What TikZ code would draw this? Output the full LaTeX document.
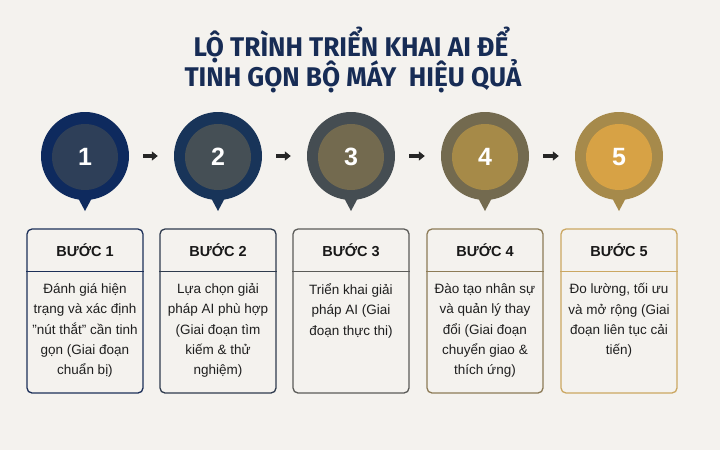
\documentclass[tikz,border=0pt]{standalone}
\usepackage{fontspec}
\setmainfont{Liberation Sans}
\newfontfamily\titlefont[FakeStretch=0.97]{Fira Sans}
\usetikzlibrary{arrows.meta}

\definecolor{bgcol}{HTML}{F4F2EE}
\definecolor{titlecol}{HTML}{172C55}
\definecolor{outerA}{HTML}{0E2A5E}
\definecolor{innerA}{HTML}{2E3F58}
\definecolor{outerB}{HTML}{183459}
\definecolor{innerB}{HTML}{454F55}
\definecolor{outerC}{HTML}{454D52}
\definecolor{innerC}{HTML}{736A4F}
\definecolor{outerD}{HTML}{736A4F}
\definecolor{innerD}{HTML}{A68A48}
\definecolor{outerE}{HTML}{A68A4B}
\definecolor{innerE}{HTML}{D7A245}
\definecolor{lineA}{HTML}{1C2F58}
\definecolor{lineB}{HTML}{2F3B4D}
\definecolor{lineC}{HTML}{5B5B58}
\definecolor{lineD}{HTML}{8D7B57}
\definecolor{lineE}{HTML}{CBA762}

\tikzset{
	titletext/.style={anchor=base, text=titlecol, font=\titlefont\bfseries\fontsize{27}{28}\selectfont},
	pinouter/.style={circle, minimum size=88pt, inner sep=0pt},
	pininner/.style={circle, minimum size=66pt, inner sep=0pt, text=white,
		font=\fontsize{25}{25}\selectfont\bfseries},
	steparrow/.style={-{Triangle[length=6pt,width=9pt]}, line width=3.2pt, color=black!85,
		shorten <=14pt, shorten >=16pt},
	stepbox/.style={rectangle, rounded corners=5pt, line width=1.3pt,
		minimum width=116pt, minimum height=164pt},
	headtext/.style={font=\fontsize{14.5}{14.5}\selectfont\bfseries, text=black!90},
	bodytext/.style={anchor=north, align=center, text=black!88,
		font=\fontsize{13.5}{20.3}\selectfont}
}

\begin{document}
\begin{tikzpicture}[x=1pt, y=-1pt]
			%%%%% BACKGROUND %%%%%
			\fill[bgcol] (0,0) rectangle (720,450);
			\useasboundingbox (0,0) rectangle (720,450);
			
			%%%%% TITLE %%%%%
			\node[titletext] (title1) at (351,56) {LỘ TRÌNH TRIỂN KHAI AI ĐỂ};
			\node[titletext] (title2) at (353,86) {TINH GỌN BỘ MÁY\ \ HIỆU QUẢ};
			
			%%%%% PINS %%%%%
			\fill[outerA] (77,196) -- (85,211) -- (93,196) -- cycle;
			\node[pinouter, fill=outerA] (p1) at (85,156) {};
			\node[pininner, fill=innerA] (n1) at (85,157) {1};
			
			\fill[outerB] (210,196) -- (218,211) -- (226,196) -- cycle;
			\node[pinouter, fill=outerB] (p2) at (218,156) {};
			\node[pininner, fill=innerB] (n2) at (218,157) {2};
			
			\fill[outerC] (343,196) -- (351,211) -- (359,196) -- cycle;
			\node[pinouter, fill=outerC] (p3) at (351,156) {};
			\node[pininner, fill=innerC] (n3) at (351,157) {3};
			
			\fill[outerD] (477,196) -- (485,211) -- (493,196) -- cycle;
			\node[pinouter, fill=outerD] (p4) at (485,156) {};
			\node[pininner, fill=innerD] (n4) at (485,157) {4};
			
			\fill[outerE] (611,196) -- (619,211) -- (627,196) -- cycle;
			\node[pinouter, fill=outerE] (p5) at (619,156) {};
			\node[pininner, fill=innerE] (n5) at (619,157) {5};
			
			\draw[steparrow] (p1) -- (p2);
			\draw[steparrow] (p2) -- (p3);
			\draw[steparrow] (p3) -- (p4);
			\draw[steparrow] (p4) -- (p5);
			
			%%%%% BOXES %%%%%
			\node[stepbox, draw=lineA] (b1) at (85,311) {};
			\draw[lineA, line width=1.3pt] ([yshift=-43pt]b1.north west) -- ([yshift=-43pt]b1.north east);
			\node[headtext] (h1) at (85,250) {BƯỚC 1};
			\node[bodytext] (t1) at (85,280) {Đánh giá hiện\\trạng và xác định\\"nút thắt" cần tinh\\gọn (Giai đoạn\\chuẩn bị)};
			
			\node[stepbox, draw=lineB] (b2) at (218,311) {};
			\draw[lineB, line width=1.3pt] ([yshift=-43pt]b2.north west) -- ([yshift=-43pt]b2.north east);
			\node[headtext] (h2) at (218,250) {BƯỚC 2};
			\node[bodytext] (t2) at (218,280) {Lựa chọn giải\\pháp AI phù hợp\\(Giai đoạn tìm\\kiếm \& thử\\nghiệm)};
			
			\node[stepbox, draw=lineC] (b3) at (351,311) {};
			\draw[lineC, line width=1.3pt] ([yshift=-43pt]b3.north west) -- ([yshift=-43pt]b3.north east);
			\node[headtext] (h3) at (351,250) {BƯỚC 3};
			\node[bodytext] (t3) at (351,280) {Triển khai giải\\pháp AI (Giai\\đoạn thực thi)};
			
			\node[stepbox, draw=lineD] (b4) at (485,311) {};
			\draw[lineD, line width=1.3pt] ([yshift=-43pt]b4.north west) -- ([yshift=-43pt]b4.north east);
			\node[headtext] (h4) at (485,250) {BƯỚC 4};
			\node[bodytext] (t4) at (485,280) {Đào tạo nhân sự\\và quản lý thay\\đổi (Giai đoạn\\chuyển giao \&\\thích ứng)};
			
			\node[stepbox, draw=lineE] (b5) at (619,311) {};
			\draw[lineE, line width=1.3pt] ([yshift=-43pt]b5.north west) -- ([yshift=-43pt]b5.north east);
			\node[headtext] (h5) at (619,250) {BƯỚC 5};
			\node[bodytext] (t5) at (619,280) {Đo lường, tối ưu\\và mở rộng (Giai\\đoạn liên tục cải\\tiến)};
\end{tikzpicture}
\end{document}
